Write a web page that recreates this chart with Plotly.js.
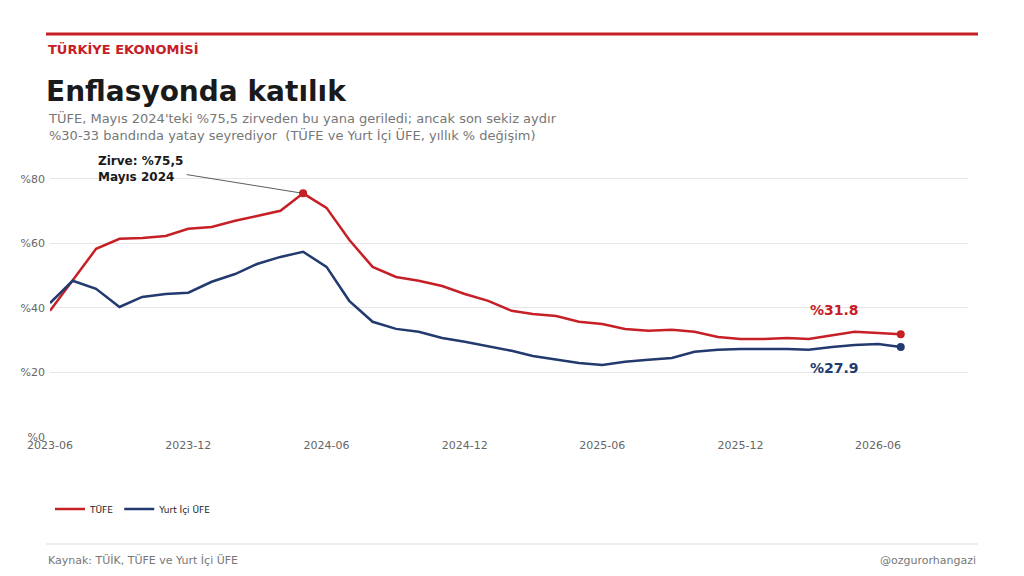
<!DOCTYPE html>
<html>
<head>
<meta charset="utf-8">
<script src="https://cdn.plot.ly/plotly-3.0.1.min.js"></script>
<style>html,body{margin:0;padding:0;background:#fff}</style>
</head>
<body>
<div id="chart" style="width:1024px;height:576px"></div>
<script>
// monthly, 2023-06 .. 2026-07
var months = [];
for (var i = 0; i < 38; i++) {
    var y = 2023 + Math.floor((5 + i) / 12), m = (5 + i) % 12 + 1;
    months.push(y + '-' + (m < 10 ? '0' + m : m) + '-01');
}
var tufe = [39.1, 48.7, 58.3, 61.4, 61.7, 62.3, 64.5, 65.1, 67.0, 68.5, 70.1, 75.5,
    71.0, 61.1, 52.7, 49.6, 48.4, 46.8, 44.3, 42.2, 39.1, 38.1, 37.5, 35.7, 35.0,
    33.5, 32.9, 33.2, 32.6, 31.0, 30.4, 30.4, 30.7, 30.4, 31.6, 32.6, 32.2, 31.8];
var ufe = [41.5, 48.4, 45.9, 40.3, 43.4, 44.3, 44.7, 48.1, 50.5, 53.6, 55.8, 57.4,
    52.7, 42.2, 35.7, 33.5, 32.6, 30.7, 29.5, 28.2, 26.7, 25.1, 23.9, 22.9, 22.3,
    23.3, 23.9, 24.5, 26.4, 27.0, 27.3, 27.3, 27.3, 27.0, 27.9, 28.5, 28.8, 27.9];
var yTicks = [0, 20, 40, 60, 80];
var yTickText = ['%0', '%20', '%40', '%60', '%80'];

var red = '#c62026', navy = '#233a6e';
var n = months.length - 1;
var pk = tufe.indexOf(Math.max.apply(null, tufe));

var traces = [
    {x: months, y: tufe, type: 'scatter', mode: 'lines', name: 'TÜFE', line: {color: red, width: 2.5}},
    {x: months, y: ufe, type: 'scatter', mode: 'lines', name: 'Yurt İçi ÜFE', line: {color: navy, width: 2.5}},
    {x: [months[n], months[pk]], y: [tufe[n], tufe[pk]], type: 'scatter', mode: 'markers',
        marker: {color: red, size: 8}, showlegend: false, hoverinfo: 'skip'},
    {x: [months[n]], y: [ufe[n]], type: 'scatter', mode: 'markers',
        marker: {color: navy, size: 8}, showlegend: false, hoverinfo: 'skip'}
];

function px(x) { return (x - 50) / 918; }
function py(y) { return (437 - y) / 284; }

var layout = {
    width: 1024, height: 576,
    margin: {l: 50, r: 56, t: 153, b: 139},
    paper_bgcolor: '#fff', plot_bgcolor: '#fff',
    font: {family: 'DejaVu Sans, sans-serif', color: '#666'},
    xaxis: {
        type: 'date', range: ['2023-06-01', '2026-09-28'],
        dtick: 'M6', tick0: '2023-06-01', tickformat: '%Y-%m',
        showgrid: false, zeroline: false, showline: false,
        tickfont: {size: 11, color: '#666'}
    },
    yaxis: {
        range: [0, 88], tickvals: yTicks, ticktext: yTickText,
        gridcolor: '#e6e6e6', zeroline: false, showline: false,
        tickfont: {size: 11, color: '#666'}, ticklabelstandoff: 4
    },
    showlegend: true,
    legend: {orientation: 'h', x: 0, xanchor: 'left', y: py(509), yanchor: 'middle',
        font: {size: 9, color: '#222'}},
    shapes: [
        {type: 'line', xref: 'paper', yref: 'paper', x0: px(46), x1: px(978), y0: py(34), y1: py(34),
            line: {color: red, width: 3}},
        {type: 'line', xref: 'paper', yref: 'paper', x0: px(46), x1: px(978), y0: py(544), y1: py(544),
            line: {color: '#dddddd', width: 1}}
    ],
    annotations: [
        {xref: 'paper', yref: 'paper', x: px(46), y: py(50), xanchor: 'left', yanchor: 'middle', showarrow: false,
            text: '<b>TÜRKİYE EKONOMİSİ</b>', font: {size: 13, color: red}},
        {xref: 'paper', yref: 'paper', x: px(44), y: py(92), xanchor: 'left', yanchor: 'middle', showarrow: false,
            text: '<b>Enflasyonda katılık</b>', font: {size: 28, color: '#1a1a1a'}},
        {xref: 'paper', yref: 'paper', x: px(46), y: py(126), xanchor: 'left', yanchor: 'middle', showarrow: false, align: 'left',
            text: "TÜFE, Mayıs 2024'teki %75,5 zirveden bu yana geriledi; ancak son sekiz aydır<br>%30-33 bandında yatay seyrediyor  (TÜFE ve Yurt İçi ÜFE, yıllık % değişim)",
            font: {size: 13, color: '#777'}},
        {x: months[pk], y: tufe[pk], xref: 'x', yref: 'y', text: '', showarrow: true, arrowhead: 0,
            arrowwidth: 0.8, arrowcolor: '#333', ax: -118, ay: -19, standoff: 3},
        {xref: 'paper', yref: 'paper', x: px(96), y: py(169), xanchor: 'left', yanchor: 'middle', showarrow: false, align: 'left',
            text: '<b>Zirve: %75,5<br>Mayıs 2024</b>', font: {size: 12, color: '#1a1a1a'}},
        {x: months[n], y: tufe[n], xref: 'x', yref: 'y', showarrow: false, xshift: -66, yshift: 24,
            text: '<b>%' + tufe[n].toFixed(1) + '</b>', font: {size: 14, color: red}},
        {x: months[n], y: ufe[n], xref: 'x', yref: 'y', showarrow: false, xshift: -66, yshift: -21,
            text: '<b>%' + ufe[n].toFixed(1) + '</b>', font: {size: 14, color: navy}},
        {xref: 'paper', yref: 'paper', x: px(46), y: py(560), xanchor: 'left', yanchor: 'middle', showarrow: false,
            text: 'Kaynak: TÜİK, TÜFE ve Yurt İçi ÜFE', font: {size: 11, color: '#777'}},
        {xref: 'paper', yref: 'paper', x: px(978), y: py(560), xanchor: 'right', yanchor: 'middle', showarrow: false,
            text: '@ozgurorhangazi', font: {size: 11, color: '#777'}}
    ]
};

Plotly.newPlot('chart', traces, layout, {displayModeBar: false});
</script>
</body>
</html>
